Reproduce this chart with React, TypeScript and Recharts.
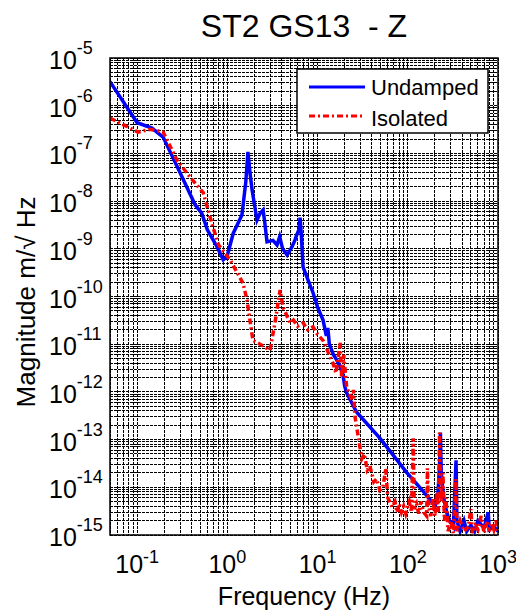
import { CartesianGrid, Line, LineChart, XAxis, YAxis } from "recharts";

// Undamped (blue, solid)
const undampedFreq = [
  0.05, 0.1, 0.146, 0.194, 0.3, 0.44, 0.52, 0.6, 0.75, 0.9, 0.99, 1.16, 1.45, 1.6, 1.69, 1.78, 1.88, 2.13, 2.3,
  2.49, 2.6, 2.75, 3.2, 3.55, 3.8, 4.1, 4.6, 5.2, 5.6, 5.9, 6.2, 6.4, 6.6, 6.9, 8.0, 8.9, 10, 11.5, 12.5, 13, 13.5,
  15, 16.5, 17.8, 19, 20, 21, 27, 49, 98, 150, 178, 200, 215, 225, 230, 235, 250, 270, 290, 320, 343, 350, 380, 420,
  450, 500, 550, 600, 700, 780, 800, 900, 1000,
];
const undampedMag = [
  3.2e-6, 4.4e-7, 3.4e-7, 2.2e-7, 3.9e-8, 8.3e-9, 5.6e-9, 2.5e-9, 1.2e-9, 5.9e-10, 6.8e-10, 2.1e-9, 5.1e-9, 2.5e-8,
  1.07e-7, 4e-8, 1.7e-8, 4e-9, 5.5e-9, 6.5e-9, 3.5e-9, 1.4e-9, 1.5e-9, 1.2e-9, 1.8e-9, 1.0e-9, 7.4e-10, 1.1e-9,
  1.5e-9, 2.0e-9, 2.5e-9, 4.5e-9, 2.0e-9, 4.2e-10, 2.0e-10, 1.2e-10, 6e-11, 3.2e-11, 1.5e-11, 2.2e-11, 1.0e-11,
  6e-12, 4.5e-12, 3.3e-12, 2.5e-12, 1.3e-12, 9.5e-13, 3.8e-13, 1.07e-13, 2e-14, 8e-15, 5.4e-15, 4e-15, 6e-15, 3e-14,
  1.4e-13, 2e-14, 6e-15, 3e-15, 2e-15, 1.5e-15, 3.7e-14, 2e-15, 1.2e-15, 2e-15, 1.2e-15, 1.6e-15, 1.2e-15, 2e-15,
  1.4e-15, 3e-15, 1.3e-15, 1.5e-15, 1.2e-15,
];

// Isolated (red, dash-dot)
const isolatedFreq = [
  0.05, 0.07, 0.102, 0.139, 0.194, 0.277, 0.385, 0.54, 0.69, 0.8, 1.07, 1.49, 1.65, 1.92, 2.3, 2.97, 3.37, 3.84,
  4.14, 4.95, 5.4, 6.0, 6.9, 7.8, 8.9, 10, 11.5, 13, 14.8, 16, 17.8, 18.5, 19.5, 21, 24, 25, 26, 29.5, 31, 33, 35.5,
  38, 42, 45, 49, 53, 57, 60, 67, 72, 76, 80, 85, 90, 95, 98, 104, 110, 115, 118, 125, 132, 140, 150, 162, 165, 170,
  180, 190, 200, 210, 218, 225, 230, 235, 245, 255, 265, 280, 300, 320, 343, 350, 380, 420, 470, 500, 520, 560, 600,
  650, 700, 760, 800, 850, 900, 950, 1000,
];
const isolatedMag = [
  5.5e-7, 4e-7, 2.8e-7, 3.2e-7, 2.8e-7, 7.2e-8, 3.2e-8, 1.5e-8, 2.9e-9, 1.2e-9, 5.9e-10, 1.9e-10, 8.5e-11, 1.2e-11,
  1.0e-11, 7.5e-12, 2.8e-11, 1.37e-10, 6e-11, 2.8e-11, 3.2e-11, 2.4e-11, 2.8e-11, 2.0e-11, 2.3e-11, 1.6e-11,
  1.2e-11, 7e-12, 4e-12, 2.5e-12, 1.07e-11, 2e-12, 6e-12, 1.26e-12, 6.8e-13, 1.1e-12, 3e-13, 6.9e-14, 4e-14, 5e-14,
  2.3e-14, 2.8e-14, 1.3e-14, 1.5e-14, 8.7e-15, 1e-14, 2.5e-14, 6e-15, 3.9e-15, 5e-15, 3e-15, 4.5e-15, 3e-15, 4e-15,
  2.8e-15, 3.5e-15, 5e-15, 3e-15, 1.07e-13, 3.5e-15, 4.5e-15, 2.8e-15, 5e-15, 3e-15, 2.5e-15, 2.5e-14, 4e-15,
  2.5e-15, 6e-15, 2.5e-15, 8e-15, 3e-15, 1.4e-13, 2e-14, 5e-15, 2e-14, 2e-15, 6e-15, 1.2e-15, 2e-15, 1.1e-15,
  1.5e-14, 1.2e-15, 2e-15, 1.2e-15, 1.5e-15, 3.5e-15, 1.1e-15, 1.6e-15, 1.3e-15, 2.5e-15, 1.1e-15, 2e-15, 1.2e-15,
  1.8e-15, 1.3e-15, 2e-15, 1.1e-15,
];

const xTicks = [0.1, 1, 10, 100, 1000];
const yTicks = [1e-15, 1e-14, 1e-13, 1e-12, 1e-11, 1e-10, 1e-9, 1e-8, 1e-7, 1e-6, 1e-5];
const gridMultipliers = [1, 2, 3, 4, 5, 6, 7, 8, 9];

const W = 516;
const H = 612;
const LEFT = 110;
const RIGHT = 498;
const TOP = 58;
const BOTTOM = 535;
const FONT = "'Liberation Sans', Arial, sans-serif";

const undamped = undampedFreq.map((f, i) => ({ f, v: undampedMag[i] }));
const isolated = isolatedFreq.map((f, i) => ({ f, v: isolatedMag[i] }));

const xGrid = [-2, -1, 0, 1, 2]
  .flatMap((d) => gridMultipliers.map((m) => m * Math.pow(10, d)))
  .filter((v) => v >= 0.05 && v <= 1000)
  .concat([1000]);
const yGrid = [-15, -14, -13, -12, -11, -10, -9, -8, -7, -6]
  .flatMap((d) => gridMultipliers.map((m) => m * Math.pow(10, d)))
  .concat([1e-5]);

const expOf = (v: number) => Math.round(Math.log10(v));

function XTick({ x, payload }: any) {
  return (
    <text x={x} y={BOTTOM + 38} textAnchor="middle" fontFamily={FONT} fontSize={25} fill="#000">
      <tspan>10</tspan>
      <tspan dy={-10} fontSize={18}>{expOf(payload.value)}</tspan>
    </text>
  );
}

function YTick({ y, payload }: any) {
  return (
    <text x={49} y={y + 11} textAnchor="start" fontFamily={FONT} fontSize={25} fill="#000">
      <tspan>10</tspan>
      <tspan dy={-15} fontSize={18}>{expOf(payload.value)}</tspan>
    </text>
  );
}

export default function App() {
  return (
    <div style={{ position: "absolute", left: 0, top: 0, width: W, height: H, background: "#fff" }}>
      <LineChart width={W} height={H} data={undamped} margin={{ top: TOP, right: W - RIGHT, left: 0, bottom: 0 }}>
        <CartesianGrid
          verticalValues={xGrid}
          horizontalValues={yGrid}
          stroke="#000"
          strokeDasharray="3 1"
          shapeRendering="crispEdges"
        />
        <XAxis
          dataKey="f"
          type="number"
          scale="log"
          domain={[0.05, 1000]}
          allowDataOverflow
          ticks={xTicks}
          interval={0}
          height={H - BOTTOM}
          tick={<XTick />}
          tickLine={false}
          axisLine={false}
        />
        <YAxis
          type="number"
          scale="log"
          domain={[1e-15, 1e-5]}
          allowDataOverflow
          ticks={yTicks}
          interval={0}
          width={LEFT}
          tick={<YTick />}
          tickLine={false}
          axisLine={false}
        />
        <Line data={undamped} dataKey="v" stroke="#0000ff" strokeWidth={3.5} dot={false} isAnimationActive={false} />
        <Line
          data={isolated}
          dataKey="v"
          stroke="#ff0000"
          strokeWidth={3.5}
          strokeDasharray="6 3 2 3"
          dot={false}
          isAnimationActive={false}
        />
      </LineChart>
      <svg width={W} height={H} style={{ position: "absolute", left: 0, top: 0, pointerEvents: "none" }}>
        <rect x={LEFT} y={TOP} width={RIGHT - LEFT} height={BOTTOM - TOP} fill="none" stroke="#000" strokeWidth={1.5} />
        <text x={(LEFT + RIGHT) / 2} y={37} textAnchor="middle" fontFamily={FONT} fontSize={32} style={{ whiteSpace: "pre" }}>
          ST2 GS13  - Z
        </text>
        <text x={(LEFT + RIGHT) / 2} y={605} textAnchor="middle" fontFamily={FONT} fontSize={25}>
          Frequency (Hz)
        </text>
        <text transform="translate(35,302) rotate(-90)" textAnchor="middle" fontFamily={FONT} fontSize={26}>
          Magnitude m/√ Hz
        </text>
        <rect x={297} y={69} width={191} height={64} fill="#fff" stroke="#000" strokeWidth={1.5} />
        <line x1={309} y1={87} x2={365} y2={87} stroke="#0000ff" strokeWidth={3} />
        <text x={371} y={95} fontFamily={FONT} fontSize={22}>Undamped</text>
        <line x1={309} y1={116} x2={365} y2={116} stroke="#ff0000" strokeWidth={3} strokeDasharray="6 3 2 3" />
        <text x={371} y={126} fontFamily={FONT} fontSize={22}>Isolated</text>
      </svg>
    </div>
  );
}
